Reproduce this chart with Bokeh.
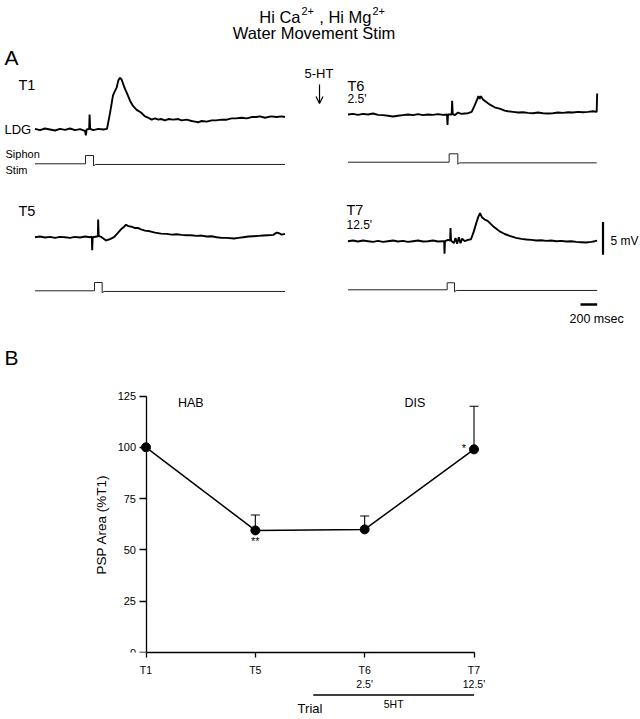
from bokeh.plotting import figure
from bokeh.models import (Range1d, LinearAxis, FixedTicker, Arrow, OpenHead,
                          Whisker, TeeHead, ColumnDataSource)
from bokeh.core.properties import value
from bokeh.embed import file_html
from bokeh.resources import INLINE

FONT = "Liberation Sans"

# ---------------- Panel A data: sweeps (ms from sweep start, mV relative to baseline)
t1_ms = [0, 60, 120, 180, 240, 300, 360, 420, 480, 540, 600, 610, 620, 650, 655, 662, 700, 760, 820, 864,
         900, 936, 960, 980, 1000, 1020, 1040, 1060, 1080, 1104, 1140, 1176, 1220, 1272, 1320, 1356, 1400,
         1440, 1480, 1512, 1560, 1600, 1660, 1720, 1760, 1820, 1880, 1920, 1956, 2000, 2060, 2120, 2172,
         2240, 2300, 2360, 2412, 2480, 2540, 2600, 2652, 2700, 2760, 2832, 2900, 2960, 3000]
t1_mv = [0.1, -0.1, 0.15, 0, -0.15, 0.1, -0.05, 0.15, -0.1, 0.05, -0.2, -0.9, 0, 0.1, 2.3, 0.1, -0.1, 0.1, 0, 0.1,
         2.5, 5.2, 5.9, 6.4, 7.5, 7.9, 7.6, 6.9, 6.2, 5.5, 4.4, 3.6, 3.0, 2.6, 2.0, 1.8, 1.5,
         1.7, 1.5, 1.6, 1.4, 1.6, 1.5, 1.6, 1.4, 1.5, 1.3, 1.2, 1.1, 1.3, 1.2, 1.4, 1.4,
         1.5, 1.5, 1.7, 1.7, 1.8, 1.7, 1.9, 1.9, 2.0, 1.8, 2.0, 1.9, 2.0, 1.9]

t6_ms = [0, 60, 120, 180, 240, 300, 360, 420, 480, 540, 600, 660, 720, 780, 840, 900, 960, 1020, 1080, 1140,
         1188, 1194, 1200, 1244, 1250, 1256, 1280, 1320, 1360, 1400, 1440, 1484, 1520, 1550, 1565, 1580, 1595,
         1620, 1660, 1704, 1760, 1820, 1880, 1920, 1980, 2040, 2100, 2160, 2220, 2280, 2340, 2400, 2460,
         2520, 2580, 2640, 2700, 2760, 2820, 2880, 2940, 2984, 2990]
t6_mv = [0, 0.1, -0.05, 0.1, 0, 0.15, -0.05, -0.1, -0.2, -0.3, -0.2, -0.1, 0, -0.1, 0.05, -0.1, 0, -0.05, 0.05, -0.05,
         0, -1.6, 0, 0, 2.1, 0.1, -0.1, 0.3, 0.1, 0.15, 0.2, 0.4, 1.4, 2.3, 2.8, 2.4, 2.8,
         2.3, 1.9, 1.5, 1.1, 0.9, 0.6, 0.5, 0.4, 0.3, 0.35, 0.25, 0.2, 0.3, 0.2, 0.15, 0.2,
         0.3, 0.25, 0.35, 0.3, 0.4, 0.35, 0.4, 0.5, 0.4, 3.2]

t5_ms = [0, 60, 120, 180, 240, 300, 360, 420, 480, 540, 600, 660, 682, 686, 692, 740, 754, 758, 764, 800,
         852, 900, 948, 990, 1040, 1070, 1092, 1120, 1160, 1200, 1240, 1272, 1320, 1380, 1440, 1512, 1580,
         1640, 1700, 1760, 1820, 1872, 1940, 2000, 2060, 2120, 2180, 2240, 2300, 2388, 2440, 2500, 2560,
         2620, 2680, 2740, 2800, 2860, 2900, 2930, 2960, 3000]
t5_mv = [0, 0.1, -0.05, 0.05, -0.1, 0.05, 0, -0.1, 0.05, -0.05, 0.1, 0, 0.1, -2.0, 0, 0.1, 0.1, 2.7, 0.2, 0,
         -0.5, -0.3, 0, 0.6, 1.3, 1.6, 1.9, 1.7, 1.6, 1.4, 1.4, 1.2, 1.0, 0.9, 0.7, 0.55, 0.5,
         0.4, 0.45, 0.35, 0.3, 0.3, 0.2, 0.25, 0.1, 0.15, 0, -0.1, -0.1, -0.2, -0.1, 0, 0.1,
         0.15, 0.2, 0.25, 0.3, 0.35, 0.7, 0.6, 0.4, 0.5]

t7_ms = [0, 60, 120, 180, 240, 300, 360, 420, 480, 540, 600, 660, 720, 780, 840, 900, 960, 1020, 1080, 1140,
         1154, 1158, 1164, 1200, 1226, 1230, 1236, 1270, 1290, 1310, 1330, 1350, 1370, 1400, 1440, 1476, 1510,
         1540, 1560, 1584, 1610, 1640, 1676, 1700, 1740, 1780, 1820, 1880, 1940, 2016, 2080, 2140, 2200,
         2260, 2320, 2380, 2440, 2500, 2560, 2620, 2680, 2740, 2800, 2856, 2920, 2960, 2990]
t7_mv = [0, 0.1, -0.05, 0.1, 0, -0.1, 0.05, -0.1, 0, 0.1, -0.05, 0.05, -0.1, 0, 0.1, -0.05, 0, 0.1, -0.05, 0,
         0, -1.9, 0, 0.2, 0.1, 2.0, 0.1, -0.3, 0.5, -0.4, 0.6, -0.3, 0.4, 0, 0.2, 0.3, 1.5,
         2.8, 3.6, 4.3, 3.6, 3.3, 3.1, 2.8, 2.3, 1.9, 1.5, 1.1, 0.8, 0.5, 0.35, 0.25, 0.2,
         0.1, 0.15, 0.05, 0.1, 0, 0.05, -0.05, 0, -0.1, -0.15, -0.2, -0.1, 0, 0.1]

# siphon stimulus monitor traces (ms, arbitrary units)
s1_ms = [0, 606, 606, 702, 702, 730, 3000]
s1_v = [0, 0, 1.27, 1.27, -0.3, -0.1, -0.1]
s6_ms = [0, 1214, 1214, 1318, 1318, 1340, 2984]
s6_v = [0, 0, 1.28, 1.28, -0.3, -0.1, -0.1]
s5_ms = [0, 714, 714, 806, 806, 830, 3000]
s5_v = [0, 0, 1.27, 1.27, -0.3, -0.1, -0.1]
s7_ms = [0, 1190, 1190, 1278, 1278, 1300, 2990]
s7_v = [0, 0, 1.07, 1.07, -0.3, -0.1, -0.1]

scale_mv = 5
scale_ms = 200

# ---------------- Panel B data
trial_labels = ["T1", "T5", "T6", "T7"]
trial_times = ["", "", "2.5'", "12.5'"]
psp_area = [100, 59.5, 60, 99]
psp_sem = [0, 7.5, 6.5, 21]
psp_sig = ["", "**", "", "*"]
y_ticks = [0, 25, 50, 75, 100, 125]
ht_span = [1.53, 3.0]   # 5-HT application on the trial axis

# ================= layout constants (page pixels)
W = 640
HA, HB = 370, 323
HC = 719 - HA - HB
MS_PER_PX = 12.0
PX_PER_MV = 6.55
LX0, RX0 = 34.5, 347.5


def ax(xi):
    return (xi - LX0) * MS_PER_PX


def ay(yi):
    return (HA - yi) / PX_PER_MV


def txt(p, x, y, s, size, align="left", baseline="middle", **kw):
    p.text(x=[x], y=[y], text=[s], text_font=value(FONT), text_font_size=f"{size}px",
           text_align=align, text_baseline=baseline, text_color="black", **kw)


# ================= Figure A
pA = figure(width=W, height=HA, x_range=Range1d(ax(0), ax(W)),
            y_range=Range1d(ay(HA), ay(0)), min_border=0,
            x_axis_type=None, y_axis_type=None, toolbar_location=None,
            output_backend="svg")
pA.outline_line_color = None

RIGHT = (RX0 - LX0) * MS_PER_PX


def sweep(ts, vs, xoff, base_img_y, width, color):
    b = ay(base_img_y)
    pA.line([t + xoff for t in ts], [v + b for v in vs], line_width=width, color=color)


sweep(t1_ms, t1_mv, 0, 129, 1.9, "black")
sweep(s1_ms, s1_v, 0, 163.3, 1.0, "#222222")
sweep(t6_ms, t6_mv, RIGHT, 114, 1.9, "black")
sweep(s6_ms, s6_v, RIGHT, 161.7, 1.0, "#222222")
sweep(t5_ms, t5_mv, 0, 236.7, 1.9, "black")
sweep(s5_ms, s5_v, 0, 290.3, 1.0, "#222222")
sweep(t7_ms, t7_mv, RIGHT, 240.7, 1.9, "black")
sweep(s7_ms, s7_v, RIGHT, 289.3, 1.0, "#222222")

# scale bars
pA.segment(x0=[ax(602.5)], y0=[ay(254.3)], x1=[ax(602.5)], y1=[ay(254.3) + scale_mv],
           line_width=2.2, color="black")
pA.segment(x0=[ax(580)], y0=[ay(304)], x1=[ax(580) + scale_ms], y1=[ay(304)],
           line_width=2.5, color="black")

# title with superscripts
txt(pA, ax(300), ay(16), "Hi Ca", 16.5, align="right")
txt(pA, ax(301), ay(10), "2+", 11)
txt(pA, ax(371), ay(16), ", Hi Mg", 16.5, align="right")
txt(pA, ax(372), ay(10), "2+", 11)
txt(pA, ax(313.5), ay(32), "Water Movement Stim", 16.5, align="center")

txt(pA, ax(4), ay(57), "A", 21)
txt(pA, ax(18), ay(84), "T1", 14.5)
txt(pA, ax(4), ay(129), "LDG", 13)
txt(pA, ax(5), ay(153), "Siphon", 11)
txt(pA, ax(5), ay(169.5), "Stim", 11)
txt(pA, ax(304), ay(73), "5-HT", 13)
pA.add_layout(Arrow(end=OpenHead(size=7, line_width=1.2, line_color="black"),
                    x_start=ax(319), y_start=ay(84), x_end=ax(319), y_end=ay(103),
                    line_width=1.2, line_color="black"))
txt(pA, ax(347), ay(85), "T6", 14.5)
txt(pA, ax(347), ay(98), "2.5'", 12)
txt(pA, ax(18), ay(210), "T5", 14.5)
txt(pA, ax(346), ay(209), "T7", 14.5)
txt(pA, ax(346), ay(224), "12.5'", 12)
txt(pA, ax(610), ay(240.5), "5 mV", 12)
txt(pA, ax(569), ay(318), "200 msec", 12.5)
txt(pA, ax(4), ay(357), "B", 21)

# ================= Figure B
FL, FR = 86, 500
FT, FB = 383, 652
BT = HA
X0, X3 = 145.5, 473.5
U = (X3 - X0) / 3.0
PPCT = (FB - 395.5) / 125.0

pB = figure(width=W, height=HB,
            x_range=Range1d((FL - X0) / U, (FR - X0) / U),
            y_range=Range1d(0, (FB - FT) / PPCT),
            min_border_left=FL, min_border_right=W - FR,
            min_border_top=FT - BT, min_border_bottom=BT + HB - FB,
            x_axis_type=None, y_axis_type=None, toolbar_location=None,
            output_backend="svg")
pB.outline_line_color = None

xs = list(range(len(trial_labels)))
overrides = {i: (f"{trial_labels[i]}\n{trial_times[i]}" if trial_times[i] else trial_labels[i])
             for i in xs}

yax = LinearAxis(fixed_location=0, bounds=(0, 125), ticker=FixedTicker(ticks=y_ticks),
                 axis_label="PSP Area (%T1)")
xax = LinearAxis(bounds=(0, 3), ticker=FixedTicker(ticks=xs), major_label_overrides=overrides)
for a in (yax, xax):
    a.axis_line_width = 1.3
    a.axis_line_color = "black"
    a.major_tick_line_width = 1.3
    a.major_tick_line_color = "black"
    a.minor_tick_line_color = None
    a.major_tick_in = 0
    a.major_label_text_font = FONT
    a.major_label_text_color = "black"
    a.axis_label_text_font = FONT
    a.axis_label_text_font_style = "normal"
    a.axis_label_text_color = "black"
yax.major_tick_out = 7
yax.major_label_standoff = 3
yax.major_label_text_font_size = "11px"
yax.axis_label_text_font_size = "13.5px"
yax.axis_label_standoff = 6
xax.major_tick_out = 5
xax.major_label_standoff = 6
xax.major_label_text_font_size = "10.5px"
pB.add_layout(yax, "left")
pB.add_layout(xax, "below")

src = ColumnDataSource(dict(x=xs, y=psp_area))
pB.line("x", "y", source=src, line_width=1.5, color="black")

err_idx = [i for i in xs if psp_sem[i] > 0]
esrc = ColumnDataSource(dict(x=[xs[i] for i in err_idx],
                             lo=[psp_area[i] for i in err_idx],
                             hi=[psp_area[i] + psp_sem[i] for i in err_idx]))
pB.add_layout(Whisker(base="x", lower="lo", upper="hi", source=esrc, dimension="height",
                      line_color="black", line_width=1.1, lower_head=None,
                      upper_head=TeeHead(size=9, line_width=1.1, line_color="black")))
pB.scatter("x", "y", source=src, size=9, color="black")

sig_off = {"**": (0, 11), "*": (-10, -1)}
for i in xs:
    if psp_sig[i]:
        dx, dy = sig_off[psp_sig[i]]
        txt(pB, xs[i], psp_area[i], psp_sig[i], 11, align="center", x_offset=dx, y_offset=dy)

txt(pB, 0.41, 121.7, "HAB", 12.5, align="center")
txt(pB, 2.46, 121.7, "DIS", 12.5, align="center")

# ================= Figure C (5HT bar and axis title)
CT = HA + HB
pC = figure(width=W, height=HC, x_range=pB.x_range, y_range=Range1d(0, HC),
            min_border_left=FL, min_border_right=W - FR,
            min_border_top=0, min_border_bottom=0,
            x_axis_type=None, y_axis_type=None, toolbar_location=None,
            output_backend="svg")
pC.outline_line_color = None


def cy(yi):
    return CT + HC - yi


pC.segment(x0=[ht_span[0]], y0=[cy(CT + 1.5)], x1=[ht_span[1]], y1=[cy(CT + 1.5)],
           line_width=1.3, color="black")
txt(pC, (ht_span[0] + ht_span[1]) / 2, cy(703), "5HT", 10.5, align="center")
txt(pC, (xs[0] + xs[-1]) / 2, cy(707.5), "Trial", 13, align="center")

open("out.html", "w").write(file_html([pA, pB, pC], INLINE))
